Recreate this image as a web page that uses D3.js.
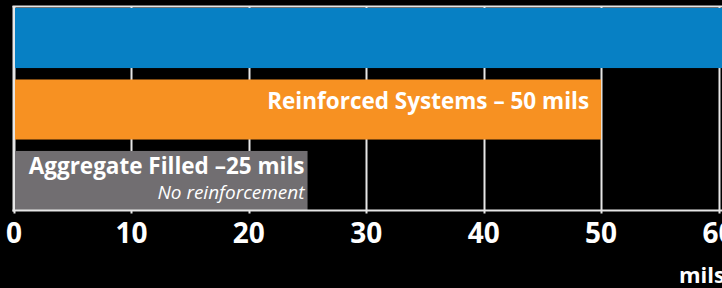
<!DOCTYPE html>
<html>
<head>
<meta charset="utf-8">
<script src="https://cdn.jsdelivr.net/npm/d3@7"></script>
<style>
  html, body { margin: 0; padding: 0; background: #000; }
  svg { display: block; }
  text { font-family: "Open Sans", "DejaVu Sans", sans-serif; fill: #fff; }
</style>
</head>
<body>
<svg id="chart" width="722" height="288"></svg>
<script>
// chart data
var categories = ["top", "reinforced", "aggregate"];
var values = [100, 50, 25];
var barColors = ["#0780c4", "#f79122", "#716e71"];
var barLabels = ["", "Reinforced Systems \u2013 50 mils", "Aggregate Filled \u201325 mils"];
var subLabels = ["", "", "No reinforcement"];
var tickValues = [0, 10, 20, 30, 40, 50, 60];
var axisTitle = "mils";

var width = 722, height = 288;
var svg = d3.select("#chart");

var x = d3.scaleLinear().domain([0, 60]).range([14, 718.5]);
var y = d3.scaleBand().domain(categories).range([8, 211]).paddingInner(0.16).paddingOuter(0);
var axisY = 210.5;

// grid lines (behind bars)
svg.append("g").selectAll("line.grid")
    .data(tickValues)
    .enter()
    .append("line")
    .attr("class", "grid")
    .attr("x1", function(d) { return Math.round(x(d)) + 0.5; })
    .attr("x2", function(d) { return Math.round(x(d)) + 0.5; })
    .attr("y1", 7)
    .attr("y2", axisY + 3)
    .attr("stroke", "#e6e6e6")
    .attr("stroke-width", 2);

// bars
svg.append("g").selectAll("rect.bar")
    .data(values)
    .enter()
    .append("rect")
    .attr("class", "bar")
    .attr("x", x(0) + 1)
    .attr("y", function(d, i) { return y(categories[i]); })
    .attr("width", function(d) { return Math.min(x(d), width + 10) - x(0) - 1; })
    .attr("height", y.bandwidth())
    .attr("fill", function(d, i) { return barColors[i]; });

// frame: top, left, axis line
svg.append("line").attr("x1", 12.5).attr("x2", width).attr("y1", 6.5).attr("y2", 6.5)
    .attr("stroke", "#e6e6e6").attr("stroke-width", 2);
svg.append("line").attr("x1", 13.5).attr("x2", 13.5).attr("y1", 6).attr("y2", axisY + 1)
    .attr("stroke", "#e6e6e6").attr("stroke-width", 2);
svg.append("line").attr("x1", 12.5).attr("x2", width).attr("y1", axisY).attr("y2", axisY)
    .attr("stroke", "#e6e6e6").attr("stroke-width", 2);

// bar labels
svg.append("g").selectAll("text.label")
    .data(values)
    .enter()
    .append("text")
    .attr("class", "label")
    .attr("x", function(d, i) { return x(d) - (subLabels[i] ? 3 : 12); })
    .attr("y", function(d, i) { return y(categories[i]) + (subLabels[i] ? 23 : 30); })
    .attr("text-anchor", "end")
    .attr("font-size", 22.5)
    .attr("font-weight", "bold")
    .text(function(d, i) { return barLabels[i]; });

svg.append("g").selectAll("text.sub")
    .data(values)
    .enter()
    .append("text")
    .attr("class", "sub")
    .attr("x", function(d) { return x(d) - 3; })
    .attr("y", function(d, i) { return y(categories[i]) + 48; })
    .attr("text-anchor", "end")
    .attr("font-size", 19)
    .attr("font-style", "italic")
    .text(function(d, i) { return subLabels[i]; });

// tick labels
svg.append("g").selectAll("text.tick")
    .data(tickValues)
    .enter()
    .append("text")
    .attr("class", "tick")
    .attr("x", function(d) { return x(d); })
    .attr("y", 243)
    .attr("text-anchor", "middle")
    .attr("font-size", 28)
    .attr("font-weight", "bold")
    .text(function(d) { return d; });

// axis title
svg.append("text")
    .attr("x", 679)
    .attr("y", 283)
    .attr("font-size", 22)
    .attr("font-weight", "bold")
    .text(axisTitle);
</script>
</body>
</html>
